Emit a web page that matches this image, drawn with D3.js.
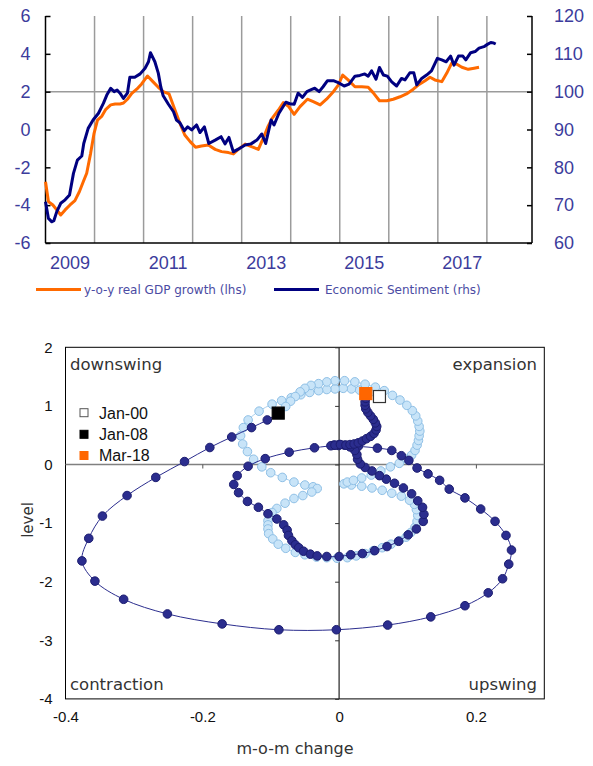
<!DOCTYPE html>
<html><head><meta charset="utf-8">
<script src="https://cdn.jsdelivr.net/npm/d3@7"></script>
<style>body{margin:0;background:#fff} svg{display:block}</style>
</head><body>
<svg id="c" width="593" height="766"></svg>
<script>
// ---------- top chart data ----------
const gdpYears=[2009.00,2009.06,2009.15,2009.23,2009.31,2009.40,2009.50,2009.60,2009.69,2009.77,2009.84,2009.92,2009.99,2010.06,2010.15,2010.23,2010.33,2010.42,2010.52,2010.59,2010.67,2010.76,2010.86,2010.96,2011.08,2011.19,2011.30,2011.40,2011.52,2011.64,2011.74,2011.84,2011.95,2012.06,2012.18,2012.32,2012.46,2012.59,2012.73,2012.83,2012.93,2013.07,2013.20,2013.34,2013.44,2013.53,2013.62,2013.75,2013.85,2013.96,2014.07,2014.19,2014.34,2014.46,2014.60,2014.73,2014.87,2014.97,2015.06,2015.17,2015.31,2015.45,2015.58,2015.68,2015.81,2015.96,2016.09,2016.23,2016.36,2016.50,2016.60,2016.74,2016.84,2016.94,2017.08,2017.18,2017.28,2017.38,2017.49,2017.62,2017.74,2017.84];
const gdpValues=[-2.76,-3.81,-3.99,-4.25,-4.52,-4.25,-3.99,-3.76,-3.29,-2.76,-2.31,-1.26,-0.20,0.50,0.71,1.07,1.30,1.35,1.35,1.40,1.60,1.91,2.13,2.41,2.83,2.53,2.23,2.00,1.88,1.03,0.33,-0.29,-0.64,-0.94,-0.87,-0.82,-1.05,-1.17,-1.22,-1.29,-1.05,-0.77,-0.91,-1.05,-0.46,0.12,0.59,1.03,1.42,1.21,0.80,1.21,1.60,1.47,1.30,1.60,2.00,2.35,2.88,2.62,2.26,2.26,2.23,1.95,1.52,1.52,1.60,1.73,1.88,2.13,2.35,2.58,2.76,2.62,2.53,2.97,3.50,3.46,3.29,3.18,3.24,3.29];
const esiYears=[2009.00,2009.06,2009.13,2009.17,2009.23,2009.31,2009.40,2009.49,2009.57,2009.65,2009.74,2009.78,2009.87,2009.97,2010.08,2010.18,2010.25,2010.33,2010.40,2010.46,2010.52,2010.59,2010.67,2010.72,2010.82,2010.93,2011.03,2011.10,2011.14,2011.23,2011.30,2011.35,2011.40,2011.50,2011.61,2011.67,2011.74,2011.83,2011.90,2011.98,2012.08,2012.15,2012.24,2012.33,2012.46,2012.58,2012.66,2012.74,2012.83,2012.93,2013.07,2013.19,2013.31,2013.41,2013.49,2013.60,2013.66,2013.76,2013.90,2013.98,2014.07,2014.15,2014.24,2014.33,2014.43,2014.49,2014.58,2014.66,2014.75,2014.87,2014.97,2015.09,2015.19,2015.31,2015.41,2015.51,2015.58,2015.65,2015.74,2015.81,2015.89,2015.97,2016.06,2016.16,2016.26,2016.33,2016.43,2016.51,2016.57,2016.67,2016.77,2016.87,2016.99,2017.08,2017.17,2017.26,2017.33,2017.42,2017.51,2017.57,2017.67,2017.76,2017.84,2017.94,2018.01,2018.08,2018.13,2018.18];
const esiValues=[70.9,66.5,65.6,65.9,68.3,70.5,71.4,72.7,78.4,81.9,83.0,86.3,90.3,92.5,94.3,96.9,99.1,100.9,100.0,100.4,99.6,98.2,99.6,103.8,103.8,104.7,106.2,107.9,110.3,107.9,104.9,101.3,98.9,96.8,94.7,92.5,91.8,89.7,90.7,89.9,91.2,89.2,90.7,86.3,87.2,88.1,86.2,87.9,84.1,84.8,85.9,86.2,87.2,88.8,86.3,92.5,91.2,94.3,97.2,96.8,96.7,99.6,98.5,100.0,100.6,100.9,100.0,101.3,102.9,102.9,102.4,101.5,102.0,104.1,104.3,104.7,104.1,105.5,103.3,106.4,104.4,104.1,102.6,101.5,103.5,103.1,105.0,105.0,101.8,103.5,104.4,105.5,108.8,108.4,107.9,109.4,107.0,109.4,109.4,108.4,110.3,110.6,111.5,111.9,112.5,113.0,112.9,112.6];
const yearLabels=[2009,2011,2013,2015,2017];
const leftTicks=[-6,-4,-2,0,2,4,6];
const rightTicks=[60,70,80,90,100,110,120];
const legendTop=["y-o-y real GDP growth (lhs)","Economic Sentiment (rhs)"];

// ---------- bottom chart data ----------
const lightMoM=[0.059,0.045,0.030,0.018,0.006,-0.006,-0.018,-0.030,-0.043,-0.056,-0.070,-0.084,-0.098,-0.117,-0.133,-0.140,-0.144,-0.141,-0.134,-0.125,-0.113,-0.100,-0.083,-0.066,-0.050,-0.038,-0.032,-0.040,-0.053,-0.066,-0.079,-0.091,-0.098,-0.102,-0.104,-0.104,-0.104,-0.103,-0.097,-0.089,-0.078,-0.064,-0.050,-0.033,-0.018,-0.003,0.012,0.025,0.038,0.050,0.063,0.076,0.088,0.098,0.105,0.111,0.114,0.115,0.113,0.110,0.103,0.091,0.077,0.063,0.048,0.033,0.018,0.007,0.012,0.021,0.033,0.047,0.061,0.075,0.088,0.099,0.106,0.111,0.114,0.116,0.117,0.118,0.117,0.115,0.112,0.107,0.099,0.089,0.078,0.066,0.053,0.038,0.023,0.008,-0.006,-0.018,-0.030,-0.041,-0.050,-0.057,-0.064,-0.071,-0.078,-0.089];
const lightLevel=[1.16,1.23,1.27,1.29,1.30,1.29,1.28,1.26,1.23,1.19,1.14,1.09,1.03,0.91,0.76,0.63,0.49,0.35,0.22,0.09,-0.04,-0.14,-0.22,-0.30,-0.35,-0.38,-0.41,-0.47,-0.53,-0.58,-0.66,-0.75,-0.82,-0.89,-0.96,-1.03,-1.10,-1.18,-1.27,-1.36,-1.43,-1.50,-1.54,-1.58,-1.59,-1.60,-1.59,-1.56,-1.52,-1.47,-1.42,-1.36,-1.30,-1.24,-1.16,-1.07,-0.97,-0.87,-0.77,-0.68,-0.61,-0.54,-0.49,-0.44,-0.40,-0.37,-0.35,-0.33,-0.30,-0.27,-0.23,-0.18,-0.11,-0.04,0.02,0.09,0.16,0.24,0.33,0.41,0.49,0.57,0.65,0.74,0.83,0.92,1.01,1.10,1.18,1.26,1.32,1.37,1.41,1.43,1.43,1.41,1.38,1.35,1.30,1.24,1.16,1.08,0.99,0.877];
const darkMoM=[-0.089,-0.105,-0.128,-0.157,-0.189,-0.226,-0.268,-0.310,-0.346,-0.366,-0.376,-0.357,-0.315,-0.251,-0.171,-0.088,-0.004,0.071,0.134,0.184,0.218,0.239,0.248,0.252,0.244,0.228,0.207,0.184,0.161,0.147,0.130,0.114,0.102,0.091,0.077,0.056,0.028,-0.001,-0.036,-0.073,-0.108,-0.133,-0.149,-0.154,-0.147,-0.134,-0.118,-0.104,-0.091,-0.081,-0.076,-0.074,-0.069,-0.064,-0.059,-0.052,-0.042,-0.032,-0.018,0.000,0.017,0.034,0.052,0.070,0.087,0.101,0.113,0.123,0.124,0.122,0.115,0.106,0.094,0.081,0.069,0.059,0.048,0.038,0.031,0.027,0.026,0.023,0.016,0.008,0.000,-0.008,-0.012,-0.006,0.002,0.010,0.016,0.022,0.028,0.034,0.040,0.046,0.051,0.054,0.055,0.053,0.050,0.046,0.042,0.039,0.038,0.038,0.039,0.040,0.039];
const darkLevel=[0.877,0.76,0.63,0.47,0.29,0.05,-0.22,-0.53,-0.88,-1.26,-1.645,-1.99,-2.30,-2.55,-2.72,-2.82,-2.82,-2.74,-2.60,-2.41,-2.19,-1.95,-1.70,-1.46,-1.21,-0.97,-0.76,-0.57,-0.42,-0.27,-0.16,-0.06,0.07,0.15,0.24,0.28,0.31,0.325,0.285,0.21,0.10,-0.03,-0.19,-0.34,-0.48,-0.63,-0.73,-0.84,-0.93,-1.03,-1.12,-1.21,-1.30,-1.37,-1.42,-1.48,-1.53,-1.56,-1.57,-1.57,-1.54,-1.52,-1.47,-1.40,-1.31,-1.20,-1.10,-0.97,-0.85,-0.73,-0.62,-0.50,-0.40,-0.32,-0.25,-0.19,-0.11,-0.05,0.01,0.09,0.17,0.24,0.30,0.33,0.34,0.33,0.32,0.33,0.34,0.33,0.34,0.35,0.37,0.40,0.44,0.48,0.53,0.59,0.65,0.71,0.77,0.83,0.89,0.95,1.01,1.07,1.13,1.18,1.21];
const momTicks=[-0.4,-0.2,0,0.2];
const levelTicks=[2,1,0,-1,-2,-3,-4];
const markerLabels=["Jan-00","Jan-08","Mar-18"];
const quadrantLabels=["downswing","expansion","contraction","upswing"];

const svg=d3.select("#c");
const BLUE_TXT="#3c3c9c";
const intFmt=d=>String(d);                       // plain hyphen-minus like the original
const decFmt=d=>d===0?"0":d.toFixed(1);

// ================= TOP CHART =================
const x=d3.scaleLinear().domain([2009,2018.92]).range([45.5,532]);
const yL=d3.scaleLinear().domain([-6,6]).range([243,16]);
const yR=d3.scaleLinear().domain([60,120]).range([243,16]);
const topG=svg.append("g");

topG.selectAll("line.vg").data(d3.range(2010,2019)).join("line")
  .attr("x1",d=>x(d)).attr("x2",d=>x(d)).attr("y1",16).attr("y2",243)
  .attr("stroke","#9b9b9b").attr("stroke-width",1.5);
topG.append("line").attr("x1",x.range()[0]).attr("x2",x.range()[1])
  .attr("y1",yL(2)).attr("y2",yL(2)).attr("stroke","#9b9b9b").attr("stroke-width",1.5);

const axL=d3.axisLeft(yL).tickValues(leftTicks).tickSize(-5).tickPadding(15).tickFormat(intFmt);
const axR=d3.axisRight(yR).tickValues(rightTicks).tickSize(-5).tickPadding(22).tickFormat(intFmt);
function styleAxis(g){
  g.select(".domain").attr("stroke","#000").attr("stroke-width",1.5);
  g.selectAll(".tick line").attr("stroke","#000").attr("stroke-width",1.5);
  g.selectAll(".tick text").attr("fill",BLUE_TXT).attr("font-size",18).attr("font-family","Liberation Sans, Arial, sans-serif");
}
topG.append("g").attr("transform","translate(45.5,0)").call(axL).call(styleAxis).call(g=>g.select(".domain").attr("d","M0,16V243"));
topG.append("g").attr("transform","translate(532,0)").call(axR).call(styleAxis).call(g=>g.select(".domain").attr("d","M0,16V243"));
topG.append("line").attr("x1",45.5).attr("x2",532).attr("y1",243).attr("y2",243).attr("stroke","#000").attr("stroke-width",1.5);

topG.selectAll("text.yr").data(yearLabels).join("text")
  .attr("x",d=>x(d+0.5)).attr("y",269).attr("text-anchor","middle")
  .attr("fill",BLUE_TXT).attr("font-size",18).attr("font-family","Liberation Sans, Arial, sans-serif").text(d=>d);

const gdp=gdpYears.map((t,i)=>[t,gdpValues[i]]);
const esi=esiYears.map((t,i)=>[t,esiValues[i]]);
topG.append("path").datum(gdp).attr("fill","none").attr("stroke","#ff6a00").attr("stroke-width",3).attr("stroke-linejoin","round")
  .attr("d",d3.line().x(d=>x(d[0])).y(d=>yL(d[1])));
topG.append("path").datum(esi).attr("fill","none").attr("stroke","#000080").attr("stroke-width",3).attr("stroke-linejoin","round")
  .attr("d",d3.line().x(d=>x(d[0])).y(d=>yR(d[1])));

const legCol=["#ff6a00","#000080"], legX=[36,274], legTX=[84,325];
legendTop.forEach((t,i)=>{
  svg.append("line").attr("x1",legX[i]).attr("x2",legX[i]+45).attr("y1",289.5).attr("y2",289.5)
    .attr("stroke",legCol[i]).attr("stroke-width",3);
  svg.append("text").attr("x",legTX[i]).attr("y",294).attr("fill","#4b4ba3")
    .attr("font-size",12).attr("font-family","DejaVu Sans, sans-serif").text(t);
});

// ================= BOTTOM CHART =================
const bx=d3.scaleLinear().domain([-0.4,0.3]).range([65.5,544.3]);
const by=d3.scaleLinear().domain([-4,2]).range([698.9,347.3]);
const bot=svg.append("g");

bot.append("rect").attr("x",bx(-0.4)).attr("y",by(2)).attr("width",bx(0.3)-bx(-0.4)).attr("height",by(-4)-by(2))
  .attr("fill","none").attr("stroke","#000").attr("stroke-width",1);
bot.append("line").attr("x1",bx(-0.4)).attr("x2",bx(0.3)).attr("y1",by(0)).attr("y2",by(0))
  .attr("stroke","#808080").attr("stroke-width",1.5);
bot.append("line").attr("x1",bx(0)).attr("x2",bx(0)).attr("y1",by(2)).attr("y2",by(-4))
  .attr("stroke","#222").attr("stroke-width",1.2);
bot.append("g").attr("transform",`translate(${bx(0)},0)`)
  .call(d3.axisLeft(by).tickValues(levelTicks).tickSize(4).tickFormat(""))
  .call(g=>{g.select(".domain").remove();g.selectAll(".tick line").attr("stroke","#333");});
bot.append("g").attr("transform",`translate(0,${by(0)})`)
  .call(d3.axisBottom(bx).tickValues([-0.2,0.2]).tickSize(4).tickFormat(""))
  .call(g=>{g.select(".domain").remove();g.selectAll(".tick line").attr("stroke","#555");});
bot.append("g").attr("transform",`translate(${bx(-0.4)},0)`)
  .call(d3.axisLeft(by).tickValues(levelTicks).tickSize(0).tickPadding(13).tickFormat(intFmt))
  .call(g=>{g.select(".domain").remove();g.selectAll("text").attr("font-size",15).attr("fill","#111").attr("font-family","Liberation Sans, Arial, sans-serif");});
bot.append("g").attr("transform",`translate(0,${by(-4)})`)
  .call(d3.axisBottom(bx).tickValues(momTicks).tickSize(0).tickPadding(12).tickFormat(decFmt))
  .call(g=>{g.select(".domain").remove();g.selectAll("text").attr("font-size",15).attr("fill","#111").attr("font-family","Liberation Sans, Arial, sans-serif");});

bot.append("text").attr("transform","translate(33,520) rotate(-90)").attr("text-anchor","middle")
  .attr("font-size",15).attr("fill","#333").attr("font-family","DejaVu Sans, sans-serif").text("level");
bot.append("text").attr("x",295).attr("y",754).attr("text-anchor","middle")
  .attr("font-size",16).attr("fill","#333").attr("font-family","DejaVu Sans, sans-serif").text("m-o-m change");

const qPos=[[70,370,"start"],[537,370,"end"],[70,690,"start"],[537,690,"end"]];
quadrantLabels.forEach((t,i)=>{
  bot.append("text").attr("x",qPos[i][0]).attr("y",qPos[i][1]).attr("text-anchor",qPos[i][2])
    .attr("font-size",16.5).attr("fill","#333").attr("font-family","DejaVu Sans, sans-serif").text(t);
});

const light=lightMoM.map((v,i)=>[v,lightLevel[i]]);
const dark=darkMoM.map((v,i)=>[v,darkLevel[i]]);
const ln=d3.line().x(d=>bx(d[0])).y(d=>by(d[1])).curve(d3.curveCatmullRom.alpha(0.5));
bot.append("path").datum(light).attr("fill","none").attr("stroke","#a8cfee").attr("stroke-width",1).attr("d",ln);
bot.selectAll("circle.l").data(light).join("circle").attr("class","l")
  .attr("cx",d=>bx(d[0])).attr("cy",d=>by(d[1])).attr("r",4.3)
  .attr("fill","#c8e4f8").attr("stroke","#8fc0e6").attr("stroke-width",1);
bot.append("path").datum(dark).attr("fill","none").attr("stroke","#2b2d8e").attr("stroke-width",1).attr("d",ln);
bot.selectAll("circle.d").data(dark).join("circle").attr("class","d")
  .attr("cx",d=>bx(d[0])).attr("cy",d=>by(d[1])).attr("r",4.3)
  .attr("fill","#2b2d8e").attr("stroke","#1c1d70").attr("stroke-width",1);

const mk=[light[0],dark[0],dark[dark.length-1]];
const mkFill=["#ffffff","#000000","#ff6600"], mkStroke=["#333","#000","#ff6600"];
mk.forEach((p,i)=>{
  bot.append("rect").attr("x",bx(p[0])-6).attr("y",by(p[1])-6).attr("width",12).attr("height",12)
    .attr("fill",mkFill[i]).attr("stroke",mkStroke[i]).attr("stroke-width",1.2);
});
const legY=[412.7,434.3,455.5];
markerLabels.forEach((t,i)=>{
  bot.append("rect").attr("x",84-4).attr("y",legY[i]-4).attr("width",8).attr("height",8)
    .attr("fill",mkFill[i]).attr("stroke",i===0?"#555":mkStroke[i]).attr("stroke-width",1);
  bot.append("text").attr("x",99).attr("y",legY[i]+5.8).attr("font-size",16).attr("fill","#111")
    .attr("font-family","Liberation Sans, Arial, sans-serif").text(t);
});
</script>
</body></html>
